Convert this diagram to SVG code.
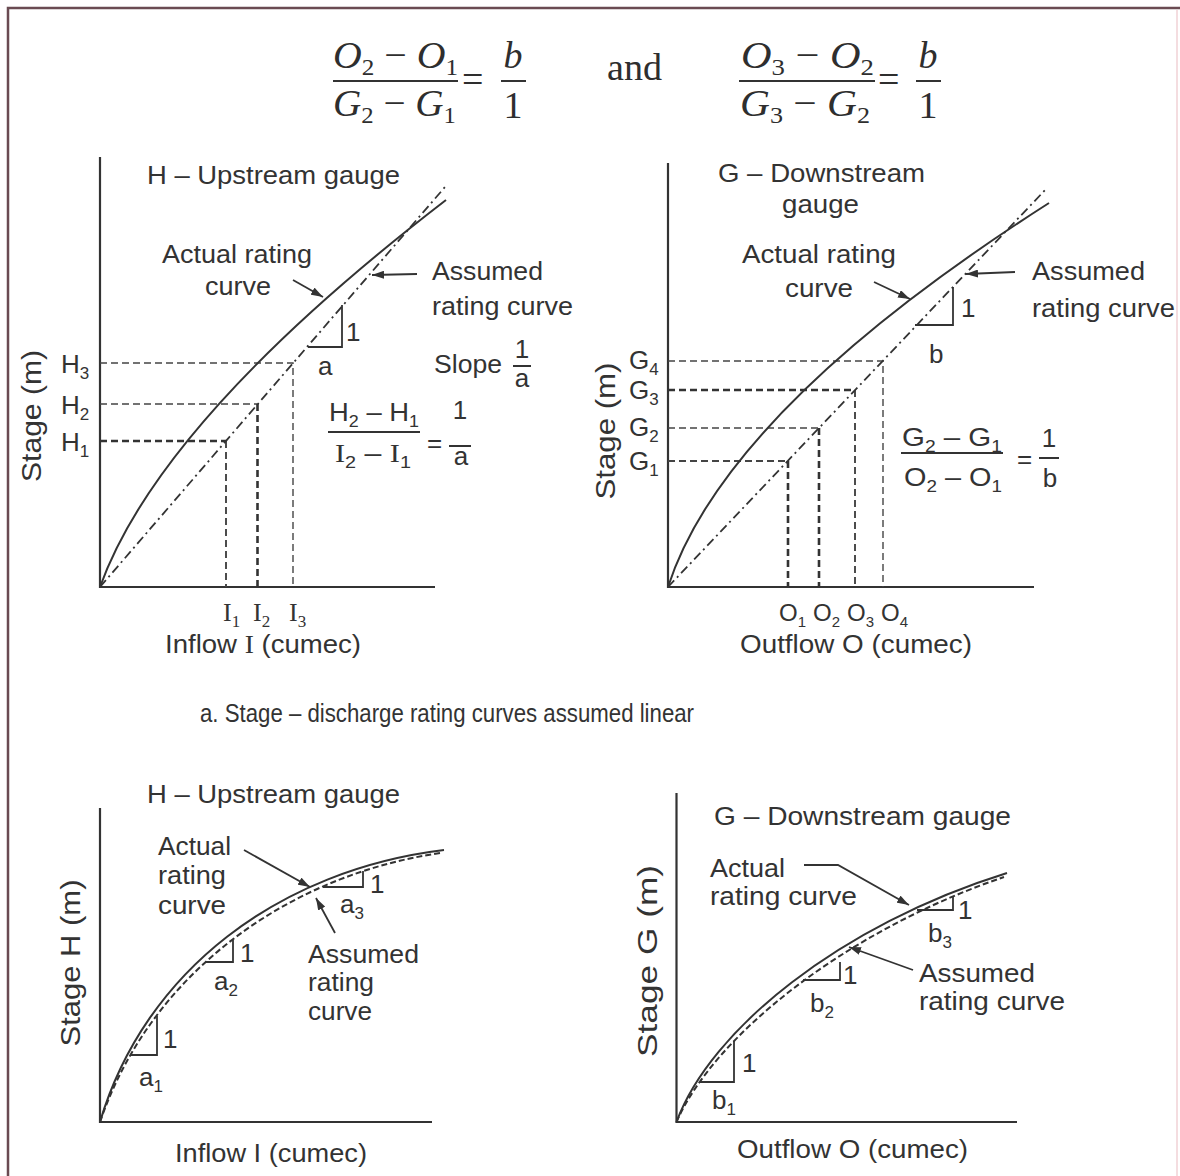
<svg xmlns="http://www.w3.org/2000/svg" width="1180" height="1176" viewBox="0 0 1180 1176">
<defs>
<style>
.t{font-family:"Liberation Sans",Arial,sans-serif;font-size:26px;fill:#333}
.v{font-size:28px}
.sb{font-size:17px}
.ol{font-size:24px}
.ol .sb{font-size:15px}
.sf{font-family:"Liberation Serif","Times New Roman",serif}
.eq{font-family:"Liberation Serif","Times New Roman",serif;font-size:38px;fill:#2e2e2e}
.eq .i{font-style:italic}
.eq .sb{font-size:24px}
.ax{stroke:#333;stroke-width:2.2;fill:none}
.cv{stroke:#333;stroke-width:2;fill:none}
.dd{stroke:#333;stroke-width:1.8;fill:none;stroke-dasharray:9 4 2 4}
.dl{stroke:#444;stroke-width:1.4;fill:none;stroke-dasharray:7 4}
.dm{stroke-width:1.9}
.db{stroke-width:2.6;stroke:#333}
.ds{stroke:#333;stroke-width:2;fill:none;stroke-dasharray:6 3}
.tri{stroke:#333;stroke-width:1.8;fill:none}
.bar{stroke:#333;stroke-width:2}
.ld{stroke:#333;stroke-width:1.8;fill:none;marker-end:url(#ah)}
</style>
<marker id="ah" viewBox="0 0 12 8" refX="12" refY="4" markerWidth="12" markerHeight="8" orient="auto" markerUnits="userSpaceOnUse"><path d="M0,0 L12,4 L0,8 z" fill="#333"/></marker>
</defs>
<rect width="1180" height="1176" fill="#fff"/>
<path d="M8,1176 V8 H1180" fill="none" stroke="#6a4b52" stroke-width="2.5"/>
<path d="M1177,10 V1176" fill="none" stroke="#f4dde0" stroke-width="2"/>

<g id="equation" class="eq">
<text x="333" y="68" textLength="125" lengthAdjust="spacingAndGlyphs"><tspan class="i">O</tspan><tspan class="sb" dy="7">2</tspan><tspan dy="-7"> − </tspan><tspan class="i">O</tspan><tspan class="sb" dy="7">1</tspan></text>
<line class="bar" x1="333" y1="81" x2="458" y2="81"/>
<text x="333" y="116" textLength="123" lengthAdjust="spacingAndGlyphs"><tspan class="i">G</tspan><tspan class="sb" dy="7">2</tspan><tspan dy="-7"> − </tspan><tspan class="i">G</tspan><tspan class="sb" dy="7">1</tspan></text>
<text x="462" y="92">=</text>
<text x="513" y="68" text-anchor="middle" class="i">b</text>
<line class="bar" x1="501" y1="81" x2="526" y2="81"/>
<text x="513" y="118" text-anchor="middle">1</text>
<text x="607" y="80" textLength="55" lengthAdjust="spacingAndGlyphs">and</text>
<text x="741" y="68" textLength="133" lengthAdjust="spacingAndGlyphs"><tspan class="i">O</tspan><tspan class="sb" dy="7">3</tspan><tspan dy="-7"> − </tspan><tspan class="i">O</tspan><tspan class="sb" dy="7">2</tspan></text>
<line class="bar" x1="739" y1="81" x2="875" y2="81"/>
<text x="740" y="116" textLength="130" lengthAdjust="spacingAndGlyphs"><tspan class="i">G</tspan><tspan class="sb" dy="7">3</tspan><tspan dy="-7"> − </tspan><tspan class="i">G</tspan><tspan class="sb" dy="7">2</tspan></text>
<text x="878" y="92">=</text>
<text x="928" y="68" text-anchor="middle" class="i">b</text>
<line class="bar" x1="916" y1="81" x2="941" y2="81"/>
<text x="928" y="118" text-anchor="middle">1</text>
</g>

<g id="panel-upstream-linear" class="t">
<path class="ax" d="M100,157 V587 H435"/>
<path class="dl" d="M100,363 H293 V587"/>
<path class="dl" d="M100,404 H257.5"/>
<path class="dl db" d="M257.5,404 V587"/>
<path class="dl db" d="M100,441 H226"/>
<path class="dl dm" d="M226,441 V587"/>
<path class="dd" d="M100,587 L445,187"/>
<path class="cv" d="M100,587 Q160,420 446,200"/>
<path class="tri" d="M308,347 H342 V305"/>
<text x="346" y="341">1</text>
<text x="318" y="375">a</text>
<text x="61" y="373">H<tspan class="sb" dy="6">3</tspan></text>
<text x="61" y="414">H<tspan class="sb" dy="6">2</tspan></text>
<text x="61" y="451">H<tspan class="sb" dy="6">1</tspan></text>
<text class="sf" x="223" y="621">I<tspan class="sb" dy="6">1</tspan></text>
<text class="sf" x="253" y="621">I<tspan class="sb" dy="6">2</tspan></text>
<text class="sf" x="289" y="621">I<tspan class="sb" dy="6">3</tspan></text>
<text x="165" y="653" textLength="196" lengthAdjust="spacingAndGlyphs">Inflow <tspan class="sf">I</tspan> (cumec)</text>
<text x="147" y="184" textLength="253" lengthAdjust="spacingAndGlyphs">H – Upstream gauge</text>
<text x="162" y="263" textLength="150" lengthAdjust="spacingAndGlyphs">Actual rating</text>
<text x="205" y="295" textLength="66" lengthAdjust="spacingAndGlyphs">curve</text>
<text x="432" y="280" textLength="111" lengthAdjust="spacingAndGlyphs">Assumed</text>
<text x="432" y="315" textLength="141" lengthAdjust="spacingAndGlyphs">rating curve</text>
<text x="434" y="373" textLength="68" lengthAdjust="spacingAndGlyphs">Slope</text>
<text x="522" y="358" text-anchor="middle">1</text>
<line class="bar" x1="513" y1="366" x2="531" y2="366"/>
<text x="522" y="387" text-anchor="middle">a</text>
<text x="329" y="421" textLength="90" lengthAdjust="spacingAndGlyphs">H<tspan class="sb" dy="6">2</tspan><tspan dy="-6"> – H</tspan><tspan class="sb" dy="6">1</tspan></text>
<line class="bar" x1="328" y1="432" x2="420" y2="432"/>
<text x="335" y="462" textLength="76" lengthAdjust="spacingAndGlyphs"><tspan class="sf">I</tspan><tspan class="sb" dy="6">2</tspan><tspan dy="-6"> – </tspan><tspan class="sf">I</tspan><tspan class="sb" dy="6">1</tspan></text>
<text x="427" y="452">=</text>
<text x="460" y="419" text-anchor="middle">1</text>
<line class="bar" x1="449" y1="446" x2="471" y2="446"/>
<text x="461" y="465" text-anchor="middle">a</text>
<text class="v" transform="translate(41,416) rotate(-90)" text-anchor="middle" textLength="132" lengthAdjust="spacingAndGlyphs">Stage (m)</text>
</g>

<g id="panel-downstream-linear" class="t">
<path class="ax" d="M668,163 V587 H1034"/>
<path class="dl" d="M668,361 H883 V587"/>
<path class="dl db" d="M668,390 H855"/>
<path class="dl dm" d="M855,390 V587"/>
<path class="dl" d="M668,428 H819"/>
<path class="dl db" d="M819,428 V587"/>
<path class="dl dm" d="M668,461 H788"/>
<path class="dl db" d="M788,461 V587"/>
<path class="dd" d="M668,587 L1047,188"/>
<path class="cv" d="M668,587 Q725,410 1049,203"/>
<path class="tri" d="M915,325 H953 V287"/>
<text x="961" y="317">1</text>
<text x="929" y="363">b</text>
<text x="629" y="369">G<tspan class="sb" dy="6">4</tspan></text>
<text x="629" y="399">G<tspan class="sb" dy="6">3</tspan></text>
<text x="629" y="436">G<tspan class="sb" dy="6">2</tspan></text>
<text x="629" y="470">G<tspan class="sb" dy="6">1</tspan></text>
<text class="ol" x="779" y="621">O<tspan class="sb" dy="6">1</tspan></text>
<text class="ol" x="813" y="621">O<tspan class="sb" dy="6">2</tspan></text>
<text class="ol" x="847" y="621">O<tspan class="sb" dy="6">3</tspan></text>
<text class="ol" x="881" y="621">O<tspan class="sb" dy="6">4</tspan></text>
<text x="740" y="653" textLength="232" lengthAdjust="spacingAndGlyphs">Outflow O (cumec)</text>
<text x="718" y="182" textLength="207" lengthAdjust="spacingAndGlyphs">G – Downstream</text>
<text x="782" y="213" textLength="77" lengthAdjust="spacingAndGlyphs">gauge</text>
<text x="742" y="263" textLength="154" lengthAdjust="spacingAndGlyphs">Actual rating</text>
<text x="785" y="297" textLength="68" lengthAdjust="spacingAndGlyphs">curve</text>
<text x="1032" y="280" textLength="113" lengthAdjust="spacingAndGlyphs">Assumed</text>
<text x="1032" y="317" textLength="143" lengthAdjust="spacingAndGlyphs">rating curve</text>
<text x="902" y="446" textLength="100" lengthAdjust="spacingAndGlyphs">G<tspan class="sb" dy="6">2</tspan><tspan dy="-6"> – G</tspan><tspan class="sb" dy="6">1</tspan></text>
<line class="bar" x1="901" y1="453" x2="1003" y2="453"/>
<text x="904" y="486" textLength="98" lengthAdjust="spacingAndGlyphs">O<tspan class="sb" dy="6">2</tspan><tspan dy="-6"> – O</tspan><tspan class="sb" dy="6">1</tspan></text>
<text x="1017" y="468">=</text>
<text x="1049" y="447" text-anchor="middle">1</text>
<line class="bar" x1="1039" y1="458" x2="1059" y2="458"/>
<text x="1050" y="487" text-anchor="middle">b</text>
<text class="v" transform="translate(615,431) rotate(-90)" text-anchor="middle" textLength="137" lengthAdjust="spacingAndGlyphs">Stage (m)</text>
</g>

<g id="caption" class="t">
<text x="200" y="722" textLength="494" lengthAdjust="spacingAndGlyphs">a. Stage – discharge rating curves assumed linear</text>
</g>

<g id="panel-upstream-curved" class="t">
<path class="ax" d="M100,808 V1122 H432"/>
<path class="cv" d="M100,1122 C145,970 280,870 444,850"/>
<path class="ds" d="M100,1122 C150,975 285,876 440,853"/>
<path class="tri" d="M131,1055 H157 V1016"/>
<path class="tri" d="M205,962 H233 V940"/>
<path class="tri" d="M323,887 H363 V871"/>
<text x="163" y="1048">1</text>
<text x="139" y="1086">a<tspan class="sb" dy="6">1</tspan></text>
<text x="240" y="962">1</text>
<text x="214" y="990">a<tspan class="sb" dy="6">2</tspan></text>
<text x="370" y="893">1</text>
<text x="340" y="913">a<tspan class="sb" dy="6">3</tspan></text>
<text x="147" y="803" textLength="253" lengthAdjust="spacingAndGlyphs">H – Upstream gauge</text>
<text x="158" y="855" textLength="73" lengthAdjust="spacingAndGlyphs">Actual</text>
<text x="158" y="884" textLength="68" lengthAdjust="spacingAndGlyphs">rating</text>
<text x="158" y="914" textLength="68" lengthAdjust="spacingAndGlyphs">curve</text>
<text x="308" y="963" textLength="111" lengthAdjust="spacingAndGlyphs">Assumed</text>
<text x="308" y="991" textLength="66" lengthAdjust="spacingAndGlyphs">rating</text>
<text x="308" y="1020" textLength="64" lengthAdjust="spacingAndGlyphs">curve</text>
<text class="v" transform="translate(80,963) rotate(-90)" text-anchor="middle" textLength="167" lengthAdjust="spacingAndGlyphs">Stage H (m)</text>
<text x="175" y="1162" textLength="192" lengthAdjust="spacingAndGlyphs">Inflow I (cumec)</text>
</g>

<g id="panel-downstream-curved" class="t">
<path class="ax" d="M676.5,793 V1122 H1017"/>
<path class="cv" d="M676.5,1122 C710,1030 840,925 1007,873"/>
<path class="ds" d="M676.5,1122 C714,1036 845,931 1004,877"/>
<path class="tri" d="M700,1082 H734 V1041"/>
<path class="tri" d="M803,980 H840 V962"/>
<path class="tri" d="M917,910 H953 V896"/>
<text x="742" y="1072">1</text>
<text x="712" y="1109">b<tspan class="sb" dy="6">1</tspan></text>
<text x="843" y="984">1</text>
<text x="810" y="1012">b<tspan class="sb" dy="6">2</tspan></text>
<text x="958" y="919">1</text>
<text x="928" y="942">b<tspan class="sb" dy="6">3</tspan></text>
<text x="714" y="825" textLength="297" lengthAdjust="spacingAndGlyphs">G – Downstream gauge</text>
<text x="710" y="877" textLength="75" lengthAdjust="spacingAndGlyphs">Actual</text>
<text x="710" y="905" textLength="147" lengthAdjust="spacingAndGlyphs">rating curve</text>
<text x="919" y="982" textLength="116" lengthAdjust="spacingAndGlyphs">Assumed</text>
<text x="919" y="1010" textLength="146" lengthAdjust="spacingAndGlyphs">rating curve</text>
<text class="v" transform="translate(657,961) rotate(-90)" text-anchor="middle" textLength="192" lengthAdjust="spacingAndGlyphs">Stage G (m)</text>
<text x="737" y="1158" textLength="231" lengthAdjust="spacingAndGlyphs">Outflow O (cumec)</text>
</g>

<g id="connectors">
<path class="ld" d="M293,280 L323,297"/>
<path class="ld" d="M417,274 L372,275"/>
<path class="ld" d="M874,282 L910,299"/>
<path class="ld" d="M1015,272 L966,274"/>
<path class="ld" d="M244,850 L310,887"/>
<path class="ld" d="M335,933 L316,898"/>
<path class="ld" d="M804,865 H838 L909,905"/>
<path class="ld" d="M913,970 L849,947"/>
</g>
</svg>
